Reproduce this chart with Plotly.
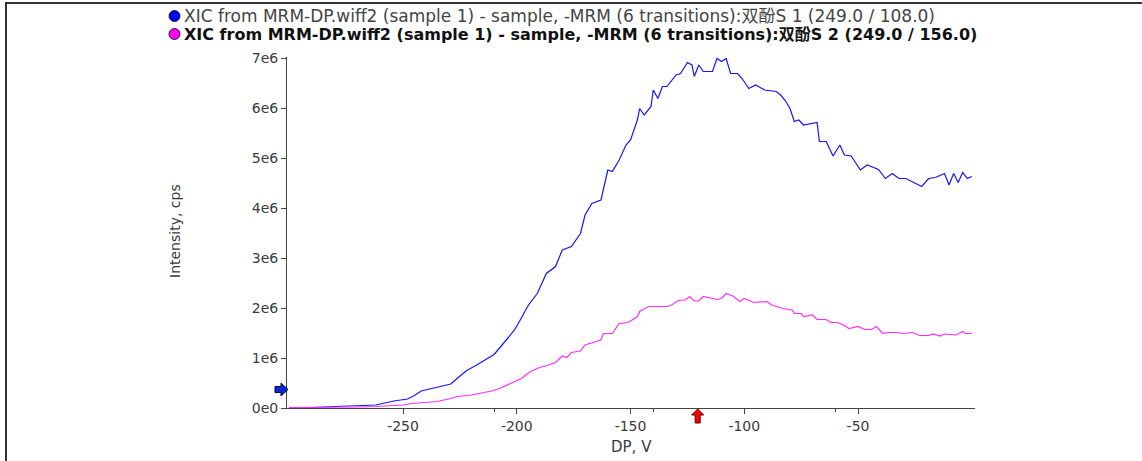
import plotly.graph_objects as go

# ---- data (DP in V, intensity in 1e6 cps) ----
dp_s1 = [-300, -290, -280, -270, -262, -258, -254, -248, -245, -242, -238, -235, -232, -229,
         -226, -222, -218, -215, -210, -207, -204, -201, -198, -195, -191, -187, -183, -180,
         -176, -172, -170, -167, -163, -160, -158, -155, -152, -150, -147, -146, -144, -141,
         -140, -138, -136, -134, -130, -128, -125, -123, -122, -120, -118, -114, -112, -110,
         -108, -106, -103, -101, -98, -95, -91, -86, -84, -82, -80, -78, -76, -74, -68, -67,
         -64, -61, -58, -56, -53, -49, -46, -41, -38, -35, -32, -29, -22, -19, -16, -12, -10,
         -8, -6, -4, -2, 0]
int_s1 = [0.01, 0.01, 0.03, 0.04, 0.06, 0.10, 0.14, 0.18, 0.25, 0.34, 0.38, 0.41, 0.44, 0.48,
          0.60, 0.75, 0.85, 0.93, 1.07, 1.23, 1.39, 1.56, 1.80, 2.05, 2.29, 2.69, 2.83, 3.16,
          3.23, 3.49, 3.86, 4.09, 4.16, 4.76, 4.73, 4.96, 5.26, 5.36, 5.76, 5.99, 5.86, 6.03,
          6.36, 6.19, 6.43, 6.43, 6.66, 6.69, 6.91, 6.86, 6.63, 6.86, 6.73, 6.73, 6.99, 6.93,
          6.99, 6.69, 6.69, 6.59, 6.39, 6.46, 6.36, 6.33, 6.26, 6.15, 6.00, 5.73, 5.76, 5.66,
          5.71, 5.33, 5.33, 5.04, 5.26, 5.06, 5.04, 4.76, 4.86, 4.77, 4.59, 4.69, 4.59, 4.59,
          4.43, 4.59, 4.61, 4.69, 4.46, 4.69, 4.51, 4.71, 4.59, 4.63]

dp_s2 = [-300, -290, -280, -270, -262, -255, -250, -246, -240, -235, -230, -226, -220, -216,
         -211, -207, -204, -201, -198, -194, -190, -186, -183, -180, -178, -176, -172, -170,
         -166, -163, -162, -158, -155, -151, -147, -146, -142, -134, -132, -129, -126, -124,
         -122, -120, -118, -114, -112, -110, -108, -105, -102, -100, -96, -90, -88, -83, -79,
         -78, -75, -74, -70, -68, -64, -62, -59, -56, -54, -50, -47, -44, -42, -39, -37, -33,
         -30, -26, -23, -19, -17, -14, -12, -7, -4, -3, 0]
int_s2 = [0.01, 0.01, 0.01, 0.02, 0.03, 0.04, 0.06, 0.09, 0.11, 0.13, 0.18, 0.23, 0.26, 0.29,
          0.34, 0.40, 0.46, 0.53, 0.59, 0.73, 0.81, 0.86, 0.91, 1.04, 1.01, 1.11, 1.14, 1.26,
          1.31, 1.36, 1.49, 1.49, 1.69, 1.71, 1.83, 1.93, 2.03, 2.03, 2.06, 2.15, 2.16, 2.23,
          2.14, 2.14, 2.23, 2.19, 2.17, 2.19, 2.29, 2.24, 2.13, 2.19, 2.11, 2.13, 2.06, 1.99,
          1.96, 1.89, 1.89, 1.83, 1.86, 1.77, 1.77, 1.71, 1.71, 1.65, 1.59, 1.63, 1.57, 1.57,
          1.63, 1.49, 1.51, 1.51, 1.49, 1.51, 1.45, 1.45, 1.48, 1.44, 1.48, 1.46, 1.53, 1.49,
          1.49]

name_s1 = "XIC from MRM-DP.wiff2 (sample 1) - sample, -MRM (6 transitions):双酚S 1 (249.0 / 108.0)"
name_s2 = "XIC from MRM-DP.wiff2 (sample 1) - sample, -MRM (6 transitions):双酚S 2 (249.0 / 156.0)"

x_ticks = [-250, -200, -150, -100, -50]
x_labels = ["-250", "-200", "-150", "-100", "-50"]
x_minor_ticks = [-210, -140, -60]
y_ticks = [0, 1, 2, 3, 4, 5, 6, 7]
y_labels = ["0e0", "1e6", "2e6", "3e6", "4e6", "5e6", "6e6", "7e6"]

threshold_y = 0.37      # blue arrow on y axis (1e6 cps)
apex_dp = -120.5        # red arrow on x axis (V)

scale = 1e6
FONT = "DejaVu Sans, Liberation Sans, Noto Sans CJK SC, sans-serif"
TXT = "#3a3a3a"

W, H = 1142, 461
ML, MR, MT, MB = 287, 167, 57, 53
PW, PH = W - ML - MR, H - MT - MB
Y_MAX = 7.02

def px_x(p):
    return (p - ML) / PW

def px_y(p):
    return (H - MB - p) / PH

fig = go.Figure()
fig.add_trace(go.Scatter(x=dp_s1, y=[v * scale for v in int_s1], mode="lines",
                         line=dict(color="#1414ff", width=1.2), showlegend=False))
fig.add_trace(go.Scatter(x=dp_s2, y=[v * scale for v in int_s2], mode="lines",
                         line=dict(color="#ff2eff", width=1.2), showlegend=False))

fig.update_layout(
    width=W, height=H,
    margin=dict(l=ML, r=MR, t=MT, b=MB),
    paper_bgcolor="white", plot_bgcolor="white",
    font=dict(family=FONT, size=14, color=TXT),
    showlegend=False,
)
fig.update_xaxes(
    range=[-301, 1.4], showgrid=False, zeroline=False,
    showline=True, linecolor="#444444", linewidth=1,
    tickmode="array", tickvals=x_ticks, ticktext=x_labels, ticks="outside", ticklen=5,
    tickcolor="#444444", tickfont=dict(size=14, color=TXT),
    minor=dict(tickmode="array", tickvals=x_minor_ticks, ticks="outside",
               ticklen=3, tickcolor="#444444"),
)
fig.update_yaxes(
    range=[0, Y_MAX * scale], showgrid=False, zeroline=False,
    showline=True, linecolor="#444444", linewidth=1,
    tickmode="array", tickvals=[t * scale for t in y_ticks], ticktext=y_labels,
    ticks="outside", ticklen=5, tickcolor="#444444",
    tickfont=dict(size=14, color=TXT),
)

# axis titles
fig.add_annotation(xref="paper", yref="paper", x=px_x(631), y=px_y(447),
                   xanchor="center", yanchor="middle", showarrow=False,
                   text="DP, V", font=dict(size=15, color=TXT, family=FONT))
fig.add_annotation(xref="paper", yref="paper", x=px_x(175), y=px_y(231),
                   xanchor="center", yanchor="middle", showarrow=False, textangle=-90,
                   text="Intensity, cps", font=dict(size=14, color=TXT, family=FONT))

# legend text
fig.add_annotation(xref="paper", yref="paper", x=px_x(182), y=px_y(16),
                   xanchor="left", yanchor="middle", showarrow=False,
                   text=name_s1, font=dict(size=17, color="#444444", family=FONT))
fig.add_annotation(xref="paper", yref="paper", x=px_x(182), y=px_y(34),
                   xanchor="left", yanchor="middle", showarrow=False,
                   text="<b>" + name_s2 + "</b>", font=dict(size=16, color="#111111", family=FONT))

# legend markers
for cy, col in [(16, "#0000ff"), (34, "#ff00ff")]:
    fig.add_shape(type="circle", xref="paper", yref="paper",
                  x0=px_x(169), x1=px_x(180), y0=px_y(cy + 5.5), y1=px_y(cy - 5.5),
                  fillcolor=col, line=dict(color="#222222", width=1))

# blue threshold arrow (pointing right, on y axis)
ty = threshold_y * scale
u = Y_MAX * scale / PH   # data units per pixel on y
blue_path = (f"M {px_x(275)} {ty + 3*u} L {px_x(281)} {ty + 3*u} L {px_x(281)} {ty + 6.5*u} "
             f"L {px_x(288)} {ty} L {px_x(281)} {ty - 6.5*u} L {px_x(281)} {ty - 3*u} "
             f"L {px_x(275)} {ty - 3*u} Z")
fig.add_shape(type="path", xref="paper", yref="y", path=blue_path,
              fillcolor="#0a2ad0", line=dict(color="#000055", width=1))

# red apex arrow (pointing up, below x axis)
v = 1 / 2.275            # data units per pixel on x
red_path = (f"M {apex_dp} {px_y(409)} L {apex_dp + 6*v} {px_y(415)} L {apex_dp + 2.5*v} {px_y(415)} "
            f"L {apex_dp + 2.5*v} {px_y(423)} L {apex_dp - 2.5*v} {px_y(423)} "
            f"L {apex_dp - 2.5*v} {px_y(415)} L {apex_dp - 6*v} {px_y(415)} Z")
fig.add_shape(type="path", xref="x", yref="paper", path=red_path,
              fillcolor="#ff0000", line=dict(color="#550000", width=1))

# frame lines (top and left)
fig.add_shape(type="line", xref="paper", yref="paper",
              x0=px_x(5), x1=px_x(W + 5), y0=px_y(3), y1=px_y(3),
              line=dict(color="#333333", width=2))
fig.add_shape(type="line", xref="paper", yref="paper",
              x0=px_x(6), x1=px_x(6), y0=px_y(3), y1=px_y(H + 5),
              line=dict(color="#333333", width=2))

fig.write_html("out.html", config={"displayModeBar": False},
               post_script="document.body.style.margin='0';")
